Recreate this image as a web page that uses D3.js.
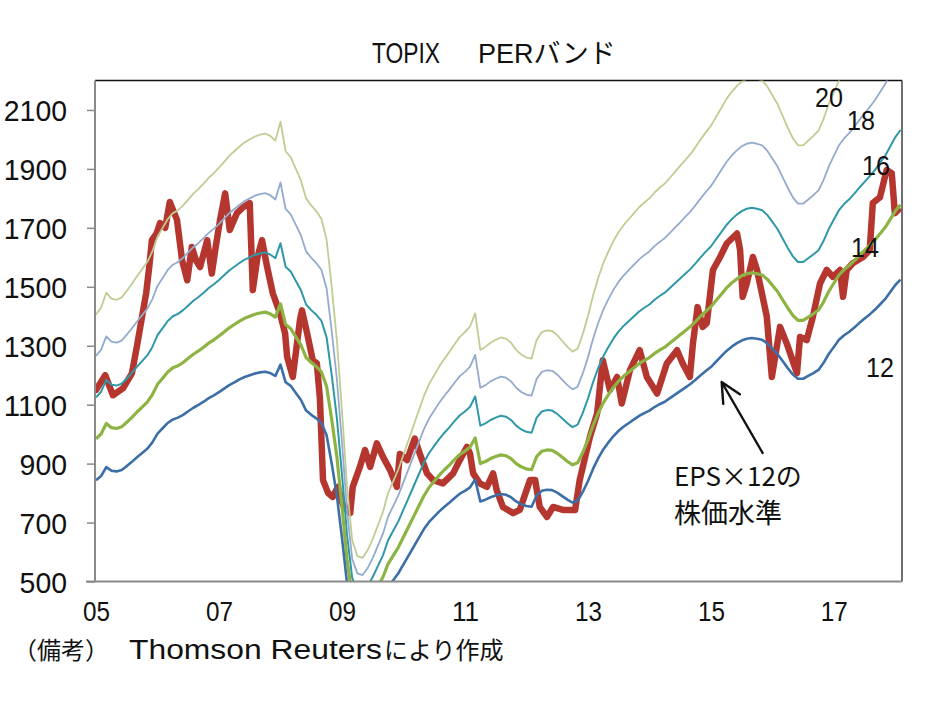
<!DOCTYPE html>
<html>
<head>
<meta charset="utf-8">
<script src="https://cdn.jsdelivr.net/npm/d3@7"></script>
<style>
  html, body { margin: 0; padding: 0; background: #ffffff; }
  svg { display: block; }
</style>
</head>
<body>
<svg id="chart" width="934" height="701"></svg>
<script>
// ---------------- DATA ----------------
// Monthly EPS (Jan 2005 = month 0), read off the PER x12 / x20 bands
const epsValues = [
  // 2005
  70.3, 71.5, 74, 73, 72.8, 73.2, 74.3, 75.5, 76.8, 78, 79.2, 81,
  // 2006
  83.5, 85, 86.5, 87.5, 88, 88.8, 89.8, 90.8, 91.6, 92.5, 93.5, 94.3,
  // 2007
  95.2, 96.2, 97.2, 98, 98.8, 99.5, 100, 100.5, 100.8, 101, 100.6, 99.8,
  // 2008
  103, 98, 97, 95, 93, 90, 88.8, 87.8, 86.5, 83, 75, 66,
  // 2009
  54, 41, 32, 29.3, 29, 30.3, 32.2, 34.5, 36.8, 40, 42, 44,
  // 2010
  46.5, 49, 51.5, 54, 56.5, 58.5, 60, 61.5, 62.8, 64, 65.3, 66.5,
  // 2011
  67.3, 68.3, 70.5, 64.3, 64.8, 65.5, 66, 66.4, 66.2, 65.5, 64.3, 63.5,
  // 2012
  63, 62.8, 66, 67.3, 67.6, 67.5, 66.8, 65.8, 64.8, 64, 64.5, 67,
  // 2013
  70, 73.5, 76.5, 79, 81, 82.8, 84.3, 85.5, 86.5, 87.5, 88.5, 89.3,
  // 2014
  90, 91, 91.8, 92.5, 93.5, 94.5, 95.5, 96.5, 97.5, 98.7, 100, 101.2,
  // 2015
  102.3, 103.8, 105.3, 106.8, 108, 109, 109.8, 110.3, 110.5, 110.3, 110, 109,
  // 2016
  107.5, 106, 104, 102, 100.2, 99, 99, 99.8, 100.6, 101.5, 103.5, 106,
  // 2017
  108, 110, 111.3, 112.3, 113.5, 114.8, 116, 117.2, 118.5, 120, 121.5, 123.5,
  // 2018
  125.5, 127
];

// PER multiples of the bands
const perLevels = [20, 18, 16, 14, 12];

// TOPIX (month offset from Jan 2005, index level)
const topixMonth = [0,1.8,3.3,5.3,7,8,9,9.8,10.4,10.9,11.8,12.5,13.5,14.4,15.8,16.8,17.8,18.7,19.5,20.3,21.7,22.6,23.4,24.2,25.2,26.1,27.5,28.7,30,30.6,31.5,32.4,33.4,34.5,35.9,36.9,37.3,38.4,39.8,40.2,41.2,42.3,43.1,43.7,44.3,45.3,46.2,47.2,48.2,49.6,50.1,51.5,52.5,53.5,54.8,56,57.4,58.7,59.3,60.7,62.2,63.2,64.6,65.8,67.7,69.7,71,72.4,73,73.6,74.9,76.3,77.5,78.2,79.4,81.4,82.7,84.7,85.7,86.6,88,89.2,91.1,92.5,93.5,94.4,96.4,97.8,98.9,100.3,101.7,102.6,104.2,106.1,107.5,109.5,111.4,113.4,114.5,115.9,116.5,117.4,118.4,119.2,120.4,121.8,123.1,125.1,125.7,126.2,127,128.2,129,130.9,131.9,133.5,134.8,136.8,137.4,138.7,139.9,141.3,142.6,143.8,145.2,145.8,146.5,147.7,149.7,151,151.6,153,154.3,155.3,155.9,156.5];
const topixValue = [1150,1200,1132,1156,1206,1300,1400,1480,1570,1658,1680,1716,1700,1788,1727,1590,1522,1635,1590,1567,1658,1545,1640,1726,1817,1693,1750,1770,1784,1489,1600,1658,1567,1478,1410,1342,1262,1194,1387,1420,1342,1251,1240,1120,844,800,787,821,760,732,821,889,946,889,969,923,878,821,933,912,985,933,867,844,833,867,912,957,933,867,833,821,867,810,753,732,743,844,844,753,719,753,743,743,743,844,991,1070,1251,1150,1194,1104,1217,1285,1194,1138,1240,1285,1240,1194,1308,1431,1364,1377,1557,1601,1647,1681,1625,1466,1511,1601,1557,1400,1194,1364,1308,1207,1330,1319,1398,1511,1557,1534,1557,1466,1557,1580,1601,1625,1784,1804,1896,1885,1750,1760];

const yTicks = [500, 700, 900, 1100, 1300, 1500, 1700, 1900, 2100];
const xTickLabels = ["05", "07", "09", "11", "13", "15", "17"];

// ---------------- LAYOUT ----------------
const plot = { left: 95, right: 902, top: 80.5, bottom: 581.5 };

const bandStyle = {
  20: { color: "#BFCD93", width: 1.8 },
  18: { color: "#94ABCD", width: 1.8 },
  16: { color: "#2F98A8", width: 2.0 },
  14: { color: "#8DB443", width: 3.2 },
  12: { color: "#3C6EA8", width: 2.6 }
};

const latin = "'Liberation Sans', Arial, sans-serif";
const cjk = "'Noto Sans CJK JP', sans-serif";
const mixed = "'Liberation Sans', 'Noto Sans CJK JP', sans-serif";

const svg = d3.select("#chart");

const x = d3.scaleLinear().domain([-0.2, 157.3]).range([plot.left, plot.right]);
const y = d3.scaleLinear().domain([500, 2200]).range([plot.bottom, plot.top]);

svg.append("defs").append("clipPath").attr("id", "plotClip")
  .append("rect")
  .attr("x", plot.left).attr("y", plot.top)
  .attr("width", plot.right - plot.left).attr("height", plot.bottom - plot.top);

// Title
svg.append("text")
  .attr("x", 372).attr("y", 63)
  .attr("fill", "#111")
  .style("font-size", "29px")
  .style("font-family", latin)
  .attr("textLength", 68).attr("lengthAdjust", "spacingAndGlyphs")
  .text("TOPIX");
svg.append("text")
  .attr("x", 478).attr("y", 63)
  .attr("fill", "#111")
  .style("font-size", "27px")
  .style("font-family", mixed)
  .text("PERバンド");

// Border: top and right
svg.append("line").attr("x1", plot.left).attr("x2", plot.right)
  .attr("y1", plot.top).attr("y2", plot.top)
  .attr("stroke", "#111").attr("stroke-width", 1.5);
svg.append("line").attr("x1", plot.right).attr("x2", plot.right)
  .attr("y1", plot.top).attr("y2", plot.bottom)
  .attr("stroke", "#222").attr("stroke-width", 1.3);

// Lines group
const g = svg.append("g").attr("clip-path", "url(#plotClip)");

const topixData = topixMonth.map((m, i) => ({ m, v: topixValue[i] }));
const lineTopix = d3.line().x(d => x(d.m)).y(d => y(d.v));
g.append("path").datum(topixData)
  .attr("d", lineTopix)
  .attr("fill", "none")
  .attr("stroke", "#B5362F")
  .attr("stroke-width", 6.5)
  .attr("stroke-linejoin", "round")
  .attr("stroke-linecap", "round");

perLevels.forEach(per => {
  const data = epsValues.map((e, i) => ({ m: i, v: e * per }));
  const ln = d3.line().x(d => x(d.m)).y(d => y(d.v));
  g.append("path").datum(data)
    .attr("d", ln)
    .attr("fill", "none")
    .attr("stroke", bandStyle[per].color)
    .attr("stroke-width", bandStyle[per].width)
    .attr("stroke-linejoin", "round");
});

// Axes
const yAxis = d3.axisLeft(y).tickValues(yTicks).tickSize(8).tickFormat(d3.format("d"));
const yg = svg.append("g").attr("transform", `translate(${plot.left},0)`).call(yAxis);
yg.select(".domain").attr("stroke", "#8a8a8a").attr("stroke-width", 2)
  .attr("d", `M0,${plot.top}V${plot.bottom}`);
yg.selectAll(".tick line").attr("stroke", "#8a8a8a").attr("stroke-width", 1.5);
yg.selectAll(".tick text")
  .attr("x", -28).attr("dy", "0.36em")
  .attr("fill", "#111")
  .style("font-family", latin)
  .style("font-size", "30px")
  .attr("textLength", d => String(d).length * 15.8)
  .attr("lengthAdjust", "spacingAndGlyphs");

const xTickVals = xTickLabels.map(s => (2000 + (+s) - 2005) * 12);
const xAxis = d3.axisBottom(x).tickValues(xTickVals).tickSize(0)
  .tickFormat((d, i) => xTickLabels[i]);
const xg = svg.append("g").attr("transform", `translate(0,${plot.bottom})`).call(xAxis);
xg.select(".domain").attr("stroke", "#8a8a8a").attr("stroke-width", 2)
  .attr("d", `M${plot.left - 9},0H${plot.right}`);
xg.selectAll(".tick text")
  .attr("y", 20).attr("dy", "0.72em")
  .attr("fill", "#111")
  .style("font-family", latin)
  .style("font-size", "27px")
  .attr("textLength", 27)
  .attr("lengthAdjust", "spacingAndGlyphs");

// Band labels
const bandLabels = [
  { t: "20", x: 815, y: 107 },
  { t: "18", x: 847, y: 130 },
  { t: "16", x: 862, y: 175 },
  { t: "14", x: 851, y: 257 },
  { t: "12", x: 866, y: 377 }
];
bandLabels.forEach(l => {
  svg.append("text").attr("x", l.x).attr("y", l.y).text(l.t)
    .attr("fill", "#111")
    .style("font-family", latin).style("font-size", "28px")
    .attr("textLength", 28).attr("lengthAdjust", "spacingAndGlyphs");
});

// Annotation arrow (anchored to data coordinates)
const tip = [x(122.1), y(1177)];
const tail = [x(130.1), y(936)];
const ang = Math.atan2(tail[1] - tip[1], tail[0] - tip[0]);
const hl = 22, ha = 0.45;
svg.append("path")
  .attr("d", `M${tail[0]},${tail[1]}L${tip[0]},${tip[1]}` +
    `M${tip[0] + hl * Math.cos(ang - ha)},${tip[1] + hl * Math.sin(ang - ha)}L${tip[0]},${tip[1]}` +
    `L${tip[0] + hl * Math.cos(ang + ha)},${tip[1] + hl * Math.sin(ang + ha)}`)
  .attr("fill", "none").attr("stroke", "#111").attr("stroke-width", 2.4)
  .attr("stroke-linecap", "round").attr("stroke-linejoin", "round");

svg.append("text").attr("x", 674).attr("y", 486).attr("fill", "#111")
  .style("font-family", cjk).style("font-size", "26px").text("EPS×12の");
svg.append("text").attr("x", 674).attr("y", 523).attr("fill", "#111")
  .style("font-family", cjk).style("font-size", "27px").text("株価水準");

// Footer note
const foot = svg.append("text").attr("x", 13).attr("y", 659).attr("fill", "#111")
  .style("font-family", cjk).style("font-size", "24px");
foot.append("tspan").text("（備考）");
foot.append("tspan").attr("x", 129)
  .style("font-family", latin).style("font-size", "27px")
  .attr("textLength", 253).attr("lengthAdjust", "spacingAndGlyphs")
  .text("Thomson Reuters");
foot.append("tspan").attr("x", 384).text("により作成");
</script>
</body>
</html>
